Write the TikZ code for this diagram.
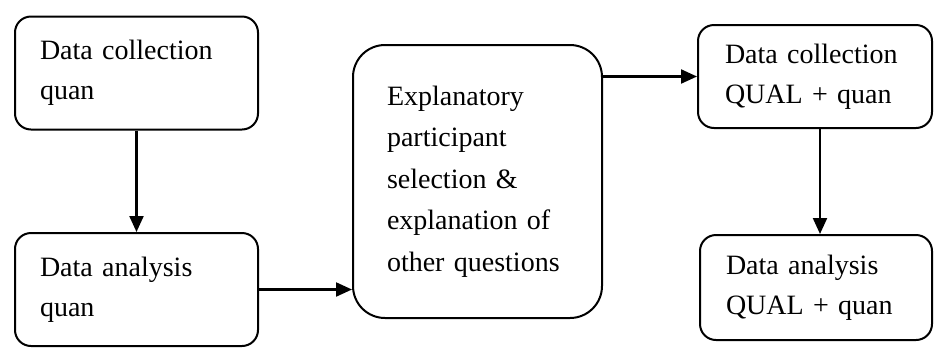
\documentclass[tikz,border=0pt]{standalone}
\usepackage{fontspec}
\setmainfont{Liberation Serif}
\usetikzlibrary{arrows.meta}
\begin{document}
\begin{tikzpicture}[x=1pt,y=-1pt,
  every node/.style={font=\fontsize{28}{40}\selectfont},
  box/.style={draw, line width=2pt, rounded corners=16pt, align=left,
    inner ysep=0pt, anchor=center},
  bigbox/.style={box, rounded corners=32pt},
  flow/.style={draw, line width=2.2pt, -{Triangle[length=16pt,width=14pt]}}]
\useasboundingbox (0,0) rectangle (934,349);

% left column: quantitative phase
\node[box, minimum width=243pt, minimum height=113pt, text width=193pt, inner xsep=25pt]
  (c1) at (136.5,73) {Data collection\\quan};
\node[box, minimum width=243pt, minimum height=113pt, text width=193pt, inner xsep=25pt]
  (a1) at (136.5,289.5) {Data analysis\\quan};

% middle: connecting step
\node[bigbox, minimum width=249pt, minimum height=273pt, text width=181pt, inner xsep=34pt,
  font=\fontsize{28}{41.5}\selectfont]
  (ex) at (477.5,181.5) {Explanatory\\participant\\selection \&\\explanation of\\other questions};

% right column: qualitative phase
\node[box, minimum width=234pt, minimum height=103pt, text width=180pt, inner xsep=27pt]
  (c2) at (815,76.5) {Data collection\\QUAL + quan};
\node[box, minimum width=232pt, minimum height=105pt, text width=180pt, inner xsep=26pt]
  (a2) at (816,287.5) {Data analysis\\QUAL + quan};

% connectors
\draw[flow] (c1.south) -- (a1.north);
\draw[flow] (a1.east) -- (a1.east -| ex.west);
\draw[flow] (ex.east |- c2.west) -- (c2.west);
\draw[flow] ([xshift=5pt]c2.south) -- ([xshift=5pt]c2.south |- a2.north);
\end{tikzpicture}
\end{document}
